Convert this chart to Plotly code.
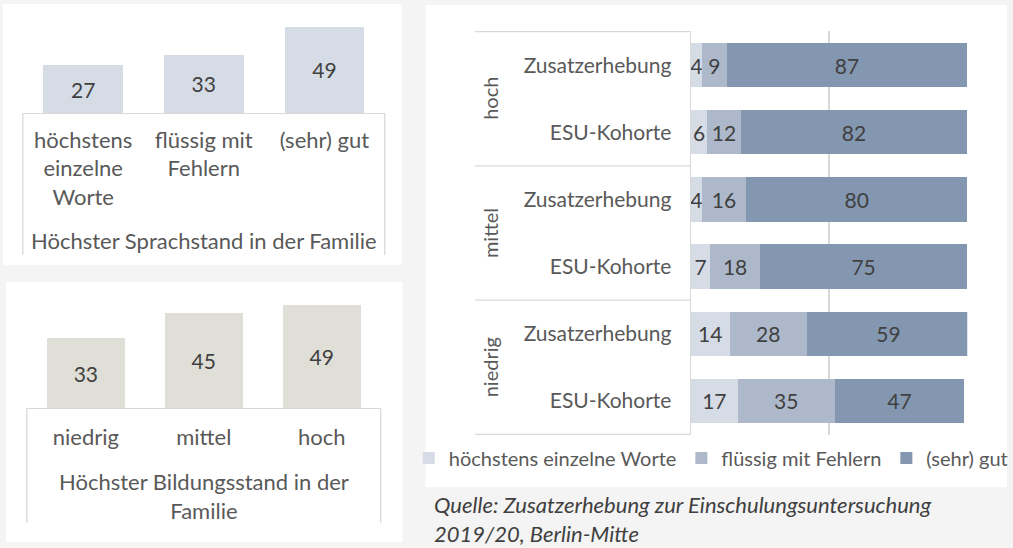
import plotly.graph_objects as go

# ---------------- data ----------------
lang_levels = ["höchstens<br>einzelne<br>Worte", "flüssig mit<br>Fehlern", "(sehr) gut"]
lang_values = [27, 33, 49]
lang_title = "Höchster Sprachstand in der Familie"

edu_levels = ["niedrig", "mittel", "hoch"]
edu_values = [33, 45, 49]
edu_title = "Höchster Bildungsstand in der<br>Familie"

groups = ["hoch", "mittel", "niedrig"]
cohorts = ["Zusatzerhebung", "ESU-Kohorte"]
series_names = ["höchstens einzelne Worte", "flüssig mit Fehlern", "(sehr) gut"]
# order: hoch-Zus, hoch-ESU, mittel-Zus, mittel-ESU, niedrig-Zus, niedrig-ESU
einzelne = [4, 6, 4, 7, 14, 17]
fluessig = [9, 12, 16, 18, 28, 35]
sehr_gut = [87, 82, 80, 75, 59, 47]
source_text = "Quelle: Zusatzerhebung zur Einschulungsuntersuchung<br>2019/20, Berlin-Mitte"

# ---------------- styling ----------------
W, H = 1013, 548
FONT = "Lato"
TXT = "#595959"
VAL = "#404040"
LINE = "#d9d9d9"
series_colors = ["#d6dce5", "#adb9ca", "#8497b0"]


def px(x):
    return x / W


def py(y):
    return 1 - y / H


fig = go.Figure()

# panel 1: language level
fig.add_trace(go.Bar(
    x=lang_levels, y=lang_values, xaxis="x", yaxis="y",
    marker=dict(color="#d6dce5", line=dict(width=0)),
    text=[str(v) for v in lang_values], textposition="inside",
    insidetextanchor="middle", textangle=0, constraintext="none",
    textfont=dict(size=21, color=VAL, family=FONT), showlegend=False,
    hoverinfo="skip"))

# panel 2: education level
fig.add_trace(go.Bar(
    x=edu_levels, y=edu_values, xaxis="x2", yaxis="y2",
    marker=dict(color="#dfdfd8", line=dict(width=0)),
    text=[str(v) for v in edu_values], textposition="inside",
    insidetextanchor="middle", textangle=0, constraintext="none",
    textfont=dict(size=21, color=VAL, family=FONT), showlegend=False,
    hoverinfo="skip"))

# panel 3: stacked 100% bars
row_keys = [f"{g} | {c}" for g in groups for c in cohorts]
row_text = [c for g in groups for c in cohorts]
for name, vals, col in zip(series_names, [einzelne, fluessig, sehr_gut], series_colors):
    fig.add_trace(go.Bar(
        y=row_keys, x=vals, orientation="h", name=name,
        xaxis="x3", yaxis="y3",
        marker=dict(color=col, line=dict(width=0)),
        text=[str(v) for v in vals], textposition="inside",
        insidetextanchor="middle", textangle=0, constraintext="none",
        textfont=dict(size=21, color=VAL, family=FONT),
        hoverinfo="skip"))

shapes = []
# white panel backgrounds
for (x0, y0, x1, y1) in [(3, 4, 404, 265), (6, 282, 405, 542), (428, 5, 1013, 487)]:
    shapes.append(dict(type="rect", xref="paper", yref="paper", layer="below",
                       x0=px(x0), x1=px(x1), y0=py(y1), y1=py(y0),
                       fillcolor="white", line=dict(width=0)))

# category frames (vertical edges) for panels 1 and 2
for xr, ytop, ybot in [("x domain", 113, 255), ("x2 domain", 408, 523)]:
    for xv in (0, 1):
        shapes.append(dict(type="line", xref=xr, yref="paper", x0=xv, x1=xv,
                           y0=py(ytop), y1=py(ybot), line=dict(color=LINE, width=1.3)))

# group separators in panel 3
for yv in [-0.5, 1.5, 3.5, 5.5]:
    shapes.append(dict(type="line", xref="paper", yref="y3", x0=px(478), x1=px(695),
                       y0=yv, y1=yv, line=dict(color=LINE, width=1.3)))

annotations = [
    dict(text=lang_title, xref="x domain", yref="paper", x=0.5, y=py(240),
         showarrow=False, font=dict(size=22, color=TXT, family=FONT),
         xanchor="center", yanchor="middle"),
    dict(text=edu_title, xref="x2 domain", yref="paper", x=0.5, y=py(496),
         showarrow=False, font=dict(size=22, color=TXT, family=FONT),
         xanchor="center", yanchor="middle"),
    dict(text=source_text, xref="paper", yref="paper", x=px(435), y=py(519),
         showarrow=False, align="left", xanchor="left", yanchor="middle",
         font=dict(size=22, color=VAL, family=FONT, style="italic")),
]
for i, g in enumerate(groups):
    annotations.append(dict(text=g, xref="paper", yref="y3", x=px(493), y=2 * i + 0.5,
                            textangle=-90, showarrow=False,
                            font=dict(size=20, color=TXT, family=FONT),
                            xanchor="center", yanchor="middle"))

cat_axis = dict(showline=True, linecolor=LINE, linewidth=1.3, ticks="",
                tickfont=dict(size=22, color=TXT, family=FONT), showgrid=False,
                zeroline=False, fixedrange=True)

fig.update_layout(
    width=W, height=H, autosize=False, margin=dict(l=0, r=0, t=0, b=0),
    paper_bgcolor="#f4f4f4", plot_bgcolor="rgba(0,0,0,0)",
    font=dict(family=FONT, color=TXT),
    barmode="stack",
    xaxis=dict(domain=[px(23), px(387)], anchor="y", ticklabelstandoff=7, **cat_axis),
    yaxis=dict(domain=[py(113), py(16)], anchor="x", range=[0, 55], visible=False),
    xaxis2=dict(domain=[px(27), px(383)], anchor="y2", ticklabelstandoff=9, **cat_axis),
    yaxis2=dict(domain=[py(408), py(292)], anchor="x2", range=[0, 55], visible=False),
    xaxis3=dict(domain=[px(695), px(973)], anchor="y3", range=[0, 100],
                tickvals=[0, 50, 100], showticklabels=False, showgrid=True,
                gridcolor=LINE, gridwidth=1.3, zeroline=False, ticks=""),
    yaxis3=dict(domain=[py(435), py(31)], anchor="x3", autorange="reversed",
                type="category", categoryorder="array", categoryarray=row_keys,
                tickvals=row_keys, ticktext=row_text, showline=True, linecolor=LINE,
                linewidth=1.3, ticks="", ticklabelstandoff=14,
                tickfont=dict(size=21, color=TXT, family=FONT)),
    bargap=0.34,
    legend=dict(orientation="h", x=px(715), xanchor="center", y=py(458), yanchor="middle",
                font=dict(size=20, color=TXT, family=FONT), bgcolor="rgba(0,0,0,0)",
                traceorder="normal", itemclick=False, itemdoubleclick=False),
    shapes=shapes, annotations=annotations,
)

fig.write_html(
    "out.html",
    config={"displayModeBar": False, "staticPlot": True, "responsive": False},
    post_script=("document.documentElement.style.overflow='hidden';"
                 "document.body.style.overflow='hidden';"
                 "document.body.style.margin='0';document.body.style.padding='0';"))
